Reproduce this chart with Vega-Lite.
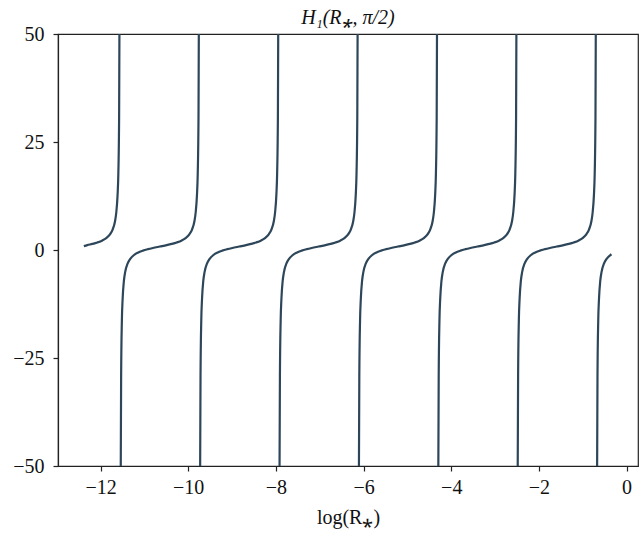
{
  "$schema": "https://vega.github.io/schema/vega-lite/v6.json",
  "autosize": "none",
  "width": 580,
  "height": 432,
  "padding": {"left": 58, "top": 34, "right": 2, "bottom": 70},
  "background": "white",
  "config": {
    "view": {"stroke": "#222222", "strokeWidth": 1.2},
    "font": "Liberation Serif",
    "axis": {
      "domainColor": "#222222",
      "domainWidth": 1.2,
      "tickColor": "#222222",
      "tickWidth": 1.2,
      "tickSize": 5,
      "grid": false,
      "labelFont": "Liberation Serif",
      "labelFontSize": 20,
      "labelColor": "#111111",
      "titleFont": "Liberation Serif",
      "titleFontSize": 20,
      "titleFontWeight": "normal",
      "titleColor": "#111111"
    },
    "title": {"font": "Liberation Serif", "fontSize": 20, "fontWeight": "normal", "color": "#111111"}
  },
  "title": {"text": "H₁(R⁎, π/2)", "anchor": "middle", "offset": -4, "fontStyle": "italic"},
  "data": {
    "values": [
      {"seg": 0, "x": -12.380, "y": 0.90},
      {"seg": 0, "x": -12.302, "y": 1.13},
      {"seg": 0, "x": -12.187, "y": 1.41},
      {"seg": 0, "x": -12.072, "y": 1.75},
      {"seg": 0, "x": -11.957, "y": 2.22},
      {"seg": 0, "x": -11.870, "y": 2.76},
      {"seg": 0, "x": -11.784, "y": 3.64},
      {"seg": 0, "x": -11.726, "y": 4.68},
      {"seg": 0, "x": -11.668, "y": 6.72},
      {"seg": 0, "x": -11.640, "y": 8.74},
      {"seg": 0, "x": -11.611, "y": 12.76},
      {"seg": 0, "x": -11.593, "y": 17.91},
      {"seg": 0, "x": -11.576, "y": 30.79},
      {"seg": 0, "x": -11.565, "y": 60.79},

      {"seg": 1, "x": -11.542, "y": -59.19},
      {"seg": 1, "x": -11.530, "y": -29.19},
      {"seg": 1, "x": -11.513, "y": -16.31},
      {"seg": 1, "x": -11.495, "y": -11.16},
      {"seg": 1, "x": -11.467, "y": -7.14},
      {"seg": 1, "x": -11.438, "y": -5.12},
      {"seg": 1, "x": -11.380, "y": -3.08},
      {"seg": 1, "x": -11.322, "y": -2.04},
      {"seg": 1, "x": -11.236, "y": -1.16},
      {"seg": 1, "x": -11.149, "y": -0.62},
      {"seg": 1, "x": -11.034, "y": -0.15},
      {"seg": 1, "x": -10.919, "y": 0.19},
      {"seg": 1, "x": -10.804, "y": 0.47},
      {"seg": 1, "x": -10.648, "y": 0.80},
      {"seg": 1, "x": -10.491, "y": 1.13},
      {"seg": 1, "x": -10.376, "y": 1.41},
      {"seg": 1, "x": -10.261, "y": 1.75},
      {"seg": 1, "x": -10.146, "y": 2.22},
      {"seg": 1, "x": -10.059, "y": 2.76},
      {"seg": 1, "x": -9.973, "y": 3.64},
      {"seg": 1, "x": -9.915, "y": 4.68},
      {"seg": 1, "x": -9.857, "y": 6.72},
      {"seg": 1, "x": -9.829, "y": 8.74},
      {"seg": 1, "x": -9.800, "y": 12.76},
      {"seg": 1, "x": -9.782, "y": 17.91},
      {"seg": 1, "x": -9.765, "y": 30.79},
      {"seg": 1, "x": -9.754, "y": 60.79},

      {"seg": 2, "x": -9.731, "y": -59.19},
      {"seg": 2, "x": -9.719, "y": -29.19},
      {"seg": 2, "x": -9.702, "y": -16.31},
      {"seg": 2, "x": -9.684, "y": -11.16},
      {"seg": 2, "x": -9.656, "y": -7.14},
      {"seg": 2, "x": -9.627, "y": -5.12},
      {"seg": 2, "x": -9.569, "y": -3.08},
      {"seg": 2, "x": -9.511, "y": -2.04},
      {"seg": 2, "x": -9.425, "y": -1.16},
      {"seg": 2, "x": -9.338, "y": -0.62},
      {"seg": 2, "x": -9.223, "y": -0.15},
      {"seg": 2, "x": -9.108, "y": 0.19},
      {"seg": 2, "x": -8.993, "y": 0.47},
      {"seg": 2, "x": -8.837, "y": 0.80},
      {"seg": 2, "x": -8.680, "y": 1.13},
      {"seg": 2, "x": -8.565, "y": 1.41},
      {"seg": 2, "x": -8.450, "y": 1.75},
      {"seg": 2, "x": -8.335, "y": 2.22},
      {"seg": 2, "x": -8.248, "y": 2.76},
      {"seg": 2, "x": -8.162, "y": 3.64},
      {"seg": 2, "x": -8.104, "y": 4.68},
      {"seg": 2, "x": -8.046, "y": 6.72},
      {"seg": 2, "x": -8.018, "y": 8.74},
      {"seg": 2, "x": -7.989, "y": 12.76},
      {"seg": 2, "x": -7.971, "y": 17.91},
      {"seg": 2, "x": -7.954, "y": 30.79},
      {"seg": 2, "x": -7.943, "y": 60.79},

      {"seg": 3, "x": -7.920, "y": -59.19},
      {"seg": 3, "x": -7.908, "y": -29.19},
      {"seg": 3, "x": -7.891, "y": -16.31},
      {"seg": 3, "x": -7.873, "y": -11.16},
      {"seg": 3, "x": -7.845, "y": -7.14},
      {"seg": 3, "x": -7.816, "y": -5.12},
      {"seg": 3, "x": -7.758, "y": -3.08},
      {"seg": 3, "x": -7.700, "y": -2.04},
      {"seg": 3, "x": -7.614, "y": -1.16},
      {"seg": 3, "x": -7.527, "y": -0.62},
      {"seg": 3, "x": -7.412, "y": -0.15},
      {"seg": 3, "x": -7.297, "y": 0.19},
      {"seg": 3, "x": -7.182, "y": 0.47},
      {"seg": 3, "x": -7.026, "y": 0.80},
      {"seg": 3, "x": -6.869, "y": 1.13},
      {"seg": 3, "x": -6.754, "y": 1.41},
      {"seg": 3, "x": -6.639, "y": 1.75},
      {"seg": 3, "x": -6.524, "y": 2.22},
      {"seg": 3, "x": -6.437, "y": 2.76},
      {"seg": 3, "x": -6.351, "y": 3.64},
      {"seg": 3, "x": -6.293, "y": 4.68},
      {"seg": 3, "x": -6.235, "y": 6.72},
      {"seg": 3, "x": -6.207, "y": 8.74},
      {"seg": 3, "x": -6.178, "y": 12.76},
      {"seg": 3, "x": -6.160, "y": 17.91},
      {"seg": 3, "x": -6.143, "y": 30.79},
      {"seg": 3, "x": -6.132, "y": 60.79},

      {"seg": 4, "x": -6.109, "y": -59.19},
      {"seg": 4, "x": -6.097, "y": -29.19},
      {"seg": 4, "x": -6.080, "y": -16.31},
      {"seg": 4, "x": -6.062, "y": -11.16},
      {"seg": 4, "x": -6.034, "y": -7.14},
      {"seg": 4, "x": -6.005, "y": -5.12},
      {"seg": 4, "x": -5.947, "y": -3.08},
      {"seg": 4, "x": -5.889, "y": -2.04},
      {"seg": 4, "x": -5.803, "y": -1.16},
      {"seg": 4, "x": -5.716, "y": -0.62},
      {"seg": 4, "x": -5.601, "y": -0.15},
      {"seg": 4, "x": -5.486, "y": 0.19},
      {"seg": 4, "x": -5.371, "y": 0.47},
      {"seg": 4, "x": -5.215, "y": 0.80},
      {"seg": 4, "x": -5.058, "y": 1.13},
      {"seg": 4, "x": -4.943, "y": 1.41},
      {"seg": 4, "x": -4.828, "y": 1.75},
      {"seg": 4, "x": -4.713, "y": 2.22},
      {"seg": 4, "x": -4.626, "y": 2.76},
      {"seg": 4, "x": -4.540, "y": 3.64},
      {"seg": 4, "x": -4.482, "y": 4.68},
      {"seg": 4, "x": -4.424, "y": 6.72},
      {"seg": 4, "x": -4.396, "y": 8.74},
      {"seg": 4, "x": -4.367, "y": 12.76},
      {"seg": 4, "x": -4.349, "y": 17.91},
      {"seg": 4, "x": -4.332, "y": 30.79},
      {"seg": 4, "x": -4.321, "y": 60.79},

      {"seg": 5, "x": -4.298, "y": -59.19},
      {"seg": 5, "x": -4.286, "y": -29.19},
      {"seg": 5, "x": -4.269, "y": -16.31},
      {"seg": 5, "x": -4.251, "y": -11.16},
      {"seg": 5, "x": -4.223, "y": -7.14},
      {"seg": 5, "x": -4.194, "y": -5.12},
      {"seg": 5, "x": -4.136, "y": -3.08},
      {"seg": 5, "x": -4.078, "y": -2.04},
      {"seg": 5, "x": -3.992, "y": -1.16},
      {"seg": 5, "x": -3.905, "y": -0.62},
      {"seg": 5, "x": -3.790, "y": -0.15},
      {"seg": 5, "x": -3.675, "y": 0.19},
      {"seg": 5, "x": -3.560, "y": 0.47},
      {"seg": 5, "x": -3.404, "y": 0.80},
      {"seg": 5, "x": -3.247, "y": 1.13},
      {"seg": 5, "x": -3.132, "y": 1.41},
      {"seg": 5, "x": -3.017, "y": 1.75},
      {"seg": 5, "x": -2.902, "y": 2.22},
      {"seg": 5, "x": -2.815, "y": 2.76},
      {"seg": 5, "x": -2.729, "y": 3.64},
      {"seg": 5, "x": -2.671, "y": 4.68},
      {"seg": 5, "x": -2.613, "y": 6.72},
      {"seg": 5, "x": -2.585, "y": 8.74},
      {"seg": 5, "x": -2.556, "y": 12.76},
      {"seg": 5, "x": -2.538, "y": 17.91},
      {"seg": 5, "x": -2.521, "y": 30.79},
      {"seg": 5, "x": -2.510, "y": 60.79},

      {"seg": 6, "x": -2.487, "y": -59.19},
      {"seg": 6, "x": -2.475, "y": -29.19},
      {"seg": 6, "x": -2.458, "y": -16.31},
      {"seg": 6, "x": -2.440, "y": -11.16},
      {"seg": 6, "x": -2.412, "y": -7.14},
      {"seg": 6, "x": -2.383, "y": -5.12},
      {"seg": 6, "x": -2.325, "y": -3.08},
      {"seg": 6, "x": -2.267, "y": -2.04},
      {"seg": 6, "x": -2.181, "y": -1.16},
      {"seg": 6, "x": -2.094, "y": -0.62},
      {"seg": 6, "x": -1.979, "y": -0.15},
      {"seg": 6, "x": -1.864, "y": 0.19},
      {"seg": 6, "x": -1.749, "y": 0.47},
      {"seg": 6, "x": -1.593, "y": 0.80},
      {"seg": 6, "x": -1.436, "y": 1.13},
      {"seg": 6, "x": -1.321, "y": 1.41},
      {"seg": 6, "x": -1.206, "y": 1.75},
      {"seg": 6, "x": -1.091, "y": 2.22},
      {"seg": 6, "x": -1.004, "y": 2.76},
      {"seg": 6, "x": -0.918, "y": 3.64},
      {"seg": 6, "x": -0.860, "y": 4.68},
      {"seg": 6, "x": -0.802, "y": 6.72},
      {"seg": 6, "x": -0.774, "y": 8.74},
      {"seg": 6, "x": -0.745, "y": 12.76},
      {"seg": 6, "x": -0.727, "y": 17.91},
      {"seg": 6, "x": -0.710, "y": 30.79},
      {"seg": 6, "x": -0.699, "y": 60.79},

      {"seg": 7, "x": -0.676, "y": -59.19},
      {"seg": 7, "x": -0.664, "y": -29.19},
      {"seg": 7, "x": -0.647, "y": -16.31},
      {"seg": 7, "x": -0.629, "y": -11.16},
      {"seg": 7, "x": -0.601, "y": -7.14},
      {"seg": 7, "x": -0.572, "y": -5.12},
      {"seg": 7, "x": -0.514, "y": -3.08},
      {"seg": 7, "x": -0.456, "y": -2.04},
      {"seg": 7, "x": -0.370, "y": -1.16},
      {"seg": 7, "x": -0.345, "y": -0.98}
    ]
  },
  "mark": {"type": "line", "clip": true, "color": "#2d4659", "strokeWidth": 2.2, "interpolate": "monotone"},
  "encoding": {
    "x": {
      "field": "x", "type": "quantitative",
      "scale": {"domain": [-12.97, 0.26], "nice": false, "zero": false},
      "axis": {"values": [-12, -10, -8, -6, -4, -2, 0], "title": "log(R⁎)", "labelExpr": "replace(datum.label, '-', '−')", "labelPadding": 6, "titlePadding": 10}
    },
    "y": {
      "field": "y", "type": "quantitative",
      "scale": {"domain": [-50, 50], "nice": false, "zero": false},
      "axis": {"values": [-50, -25, 0, 25, 50], "title": null, "labelExpr": "replace(datum.label, '-', '−')", "labelPadding": 9}
    },
    "detail": {"field": "seg", "type": "nominal"},
    "order": {"field": "x", "type": "quantitative"}
  }
}
